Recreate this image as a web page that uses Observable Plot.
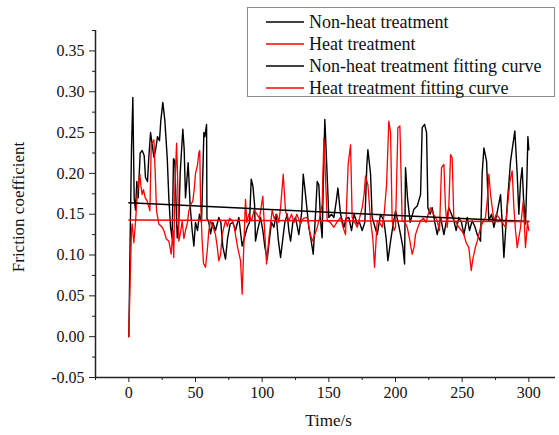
<!DOCTYPE html>
<html>
<head>
<meta charset="utf-8">
<script src="https://cdn.jsdelivr.net/npm/d3@7"></script>
<script src="https://cdn.jsdelivr.net/npm/@observablehq/plot@0.6"></script>
<style>
  body { margin: 0; background: #fff; }
  #wrap { position: relative; width: 559px; height: 435px; }
  #wrap > svg { font-family: "Liberation Serif", "Times New Roman", serif !important; font-size: 16px !important; color: #111 !important; }
  #legend { position: absolute; left: 247px; top: 7px; width: 308px; height: 90px;
    border: 1px solid #8a8a8a; background: #fff; font-family: "Liberation Serif", serif;
    font-size: 18px; color: #111; box-sizing: border-box; padding-top: 3px; }
  #legend .row { height: 22px; line-height: 22px; display: flex; align-items: center; white-space: nowrap; }
  #legend svg { margin-left: 18px; margin-right: 5px; }
</style>
</head>
<body>
<div id="wrap"><div id="legend"></div></div>
<script>
// ---- data ----
const seriesNames = ["Non-heat treatment", "Heat treatment", "Non-heat treatment fitting curve", "Heat treatment fitting curve"];
const seriesColors = ["#000000", "#ff0000", "#000000", "#ff0000"];

const nonHeatT = [0,1,2,3,4,5,6,7,8.5,10,11.5,12.5,14,15,16.3,17.5,18.8,20,21.5,23,24,25.5,27,28.8,30,31.3,32.5,33.5,34.5,35.5,36.3,37.5,38.5,40.5,41.5,42.5,44.5,46,47.5,48.8,50,51.5,53,54.5,56.3,57,58.3,58.6,60,61.3,63,65,67.5,69,70.5,72.5,74,76,78,80,82.5,85,86.5,88.8,90.5,91.8,93,94.3,95,96.5,98.8,100.5,102,103.8,105.5,107,108.8,110.5,112,113.8,115.5,117,118.8,120,121.3,123,125,127.5,129.5,130.8,132.5,135,136.5,138.3,140,141.3,142.5,143.8,145,146,147,148.3,150,152,153.8,155.5,156.8,158.8,161.3,163,165,167,169,171.3,173,175,177,178.5,179.3,181.3,182.5,184.5,186.3,188.8,191.3,193,194.3,196.3,198,200,202,203.8,205.5,206.8,207.5,209,211,213.8,216.3,218.8,220,221.8,223.3,224.3,226,227.5,229.5,231.3,233.8,236.3,238,240,242,243.8,245.5,247.5,249.5,251.3,253.8,255.5,257.5,259.5,261.3,263.8,265,266.3,268.3,270,272,273.8,276,278.8,280,281.3,283.8,286.3,288,289.5,291.3,292.5,293.8,295,296,297.5,298.5,299.3,300];
const nonHeatV = [0,0.12,0.23,0.293,0.17,0.155,0.19,0.17,0.225,0.228,0.222,0.195,0.19,0.22,0.25,0.235,0.22,0.228,0.245,0.24,0.265,0.287,0.265,0.219,0.17,0.134,0.12,0.218,0.215,0.16,0.121,0.14,0.2,0.254,0.23,0.17,0.213,0.16,0.13,0.111,0.14,0.13,0.15,0.14,0.25,0.245,0.26,0.145,0.14,0.126,0.14,0.13,0.146,0.14,0.11,0.095,0.12,0.138,0.14,0.13,0.146,0.111,0.12,0.134,0.14,0.193,0.185,0.162,0.117,0.13,0.146,0.13,0.11,0.095,0.12,0.14,0.134,0.15,0.12,0.097,0.12,0.14,0.15,0.13,0.117,0.14,0.146,0.125,0.15,0.199,0.174,0.134,0.12,0.101,0.15,0.19,0.186,0.142,0.121,0.2,0.266,0.215,0.146,0.15,0.146,0.165,0.182,0.15,0.134,0.145,0.146,0.13,0.15,0.138,0.14,0.13,0.14,0.21,0.229,0.199,0.146,0.135,0.125,0.15,0.142,0.12,0.093,0.117,0.135,0.154,0.14,0.125,0.11,0.089,0.207,0.17,0.14,0.156,0.16,0.174,0.256,0.26,0.25,0.158,0.15,0.158,0.14,0.125,0.146,0.125,0.14,0.158,0.15,0.142,0.13,0.146,0.14,0.125,0.146,0.13,0.142,0.135,0.125,0.117,0.2,0.231,0.215,0.142,0.15,0.134,0.15,0.174,0.14,0.097,0.162,0.215,0.235,0.252,0.199,0.15,0.19,0.207,0.17,0.138,0.19,0.245,0.229];

const heatT = [0,1,2,2.5,3.75,5,6.3,7.3,8.3,9,10,11,12.3,13.8,15.8,16.8,18.8,19.8,20.8,22.5,24.5,26.3,28,30,31.8,33,33.7,34.5,35.8,36.5,37.5,39,40,41.3,42.5,44,45,46.5,48,49,50,51.5,52.5,53.2,53.8,55,56,57.5,58.8,60,61.3,63,65,66.3,67.5,68.8,70,72.5,74,75.5,77.5,79,80,81.5,83.8,85,86,87.5,88.5,90,92,94,96,98,100.5,101.5,103.3,105,107.5,109,111,112.5,113.8,115.8,117.5,120,122,124,126,128.8,131,133.8,135.5,137.5,139.5,141.3,143,145,146.3,147.5,148.8,151,153.8,156,158.8,160.5,162.5,164.5,166.3,167.5,169.5,171.3,173,175,176.5,177.5,179.3,181.3,183,184.3,185.5,186.3,188,190,191.5,193.3,195,196.3,197.5,199,200,201.8,203.3,205,207,208.8,210.5,212.5,214,215,217,218.8,221,223,224.5,226.3,228.5,231.3,233,234.5,236.3,237.5,238.8,240,241.3,242.5,243.8,245.5,247.5,249.5,251.3,253,255,256.8,258,258.8,260,261.3,263.8,265.5,267.5,269,270,271.3,273.8,275.5,277.5,280,282.5,284,285.8,287.5,288.8,290,291.3,293.8,295.8,297.5,299,300];
const heatV = [0,0.07,0.13,0.138,0.115,0.14,0.174,0.19,0.199,0.185,0.174,0.18,0.17,0.166,0.154,0.235,0.241,0.2,0.154,0.138,0.135,0.13,0.12,0.117,0.101,0.13,0.097,0.18,0.237,0.2,0.117,0.13,0.142,0.12,0.13,0.14,0.154,0.162,0.166,0.18,0.2,0.21,0.225,0.228,0.166,0.117,0.09,0.085,0.105,0.13,0.142,0.135,0.125,0.11,0.093,0.1,0.125,0.142,0.135,0.145,0.142,0.135,0.125,0.11,0.093,0.052,0.1,0.168,0.14,0.15,0.142,0.155,0.15,0.145,0.172,0.14,0.089,0.12,0.155,0.145,0.15,0.14,0.158,0.199,0.154,0.142,0.15,0.14,0.15,0.138,0.145,0.146,0.13,0.117,0.125,0.134,0.145,0.162,0.243,0.195,0.142,0.14,0.134,0.14,0.146,0.135,0.125,0.211,0.235,0.146,0.14,0.134,0.145,0.158,0.175,0.197,0.186,0.142,0.12,0.085,0.12,0.142,0.14,0.134,0.15,0.186,0.264,0.25,0.142,0.13,0.134,0.256,0.258,0.142,0.14,0.134,0.12,0.101,0.11,0.125,0.135,0.142,0.145,0.14,0.15,0.158,0.15,0.142,0.13,0.207,0.211,0.158,0.134,0.16,0.223,0.219,0.142,0.14,0.134,0.13,0.125,0.115,0.109,0.081,0.095,0.101,0.11,0.117,0.134,0.14,0.146,0.17,0.199,0.174,0.142,0.15,0.146,0.14,0.134,0.16,0.19,0.203,0.158,0.13,0.109,0.134,0.166,0.109,0.14,0.13];

const fitT = [0, 300];
const nonHeatFitV = [0.164, 0.141];
const heatFitV = [0.143, 0.141];

const xDomain = [-25, 320];
const yDomain = [-0.05, 0.375];
const xMajor = [0, 50, 100, 150, 200, 250, 300];
const xMinor = [-25, 25, 75, 125, 175, 225, 275];
const yMajor = [-0.05, 0, 0.05, 0.10, 0.15, 0.20, 0.25, 0.30, 0.35];
const yMinor = [-0.025, 0.025, 0.075, 0.125, 0.175, 0.225, 0.275, 0.325, 0.375];
const xLabel = "Time/s";
const yLabel = "Friction coefficient";

// ---- build ----
const toRows = (ts, vs) => ts.map((t, i) => ({t, v: vs[i]}));
const nonHeat = toRows(nonHeatT, nonHeatV);
const heat = toRows(heatT, heatV);
const nonHeatFit = toRows(fitT, nonHeatFitV);
const heatFit = toRows(fitT, heatFitV);

const serif = '"Liberation Serif", "Times New Roman", serif';
const chart = Plot.plot({
  width: 559,
  height: 435,
  marginLeft: 95,
  marginRight: 4,
  marginTop: 30,
  marginBottom: 58,
  x: {domain: xDomain},
  y: {domain: yDomain},
  style: {fontFamily: serif, fontSize: "16px", color: "#111", background: "#fff"},
  marks: [
    Plot.line(nonHeat, {x: "t", y: "v", stroke: seriesColors[0], strokeWidth: 1.4}),
    Plot.line(heat, {x: "t", y: "v", stroke: seriesColors[1], strokeWidth: 1.3}),
    Plot.line(nonHeatFit, {x: "t", y: "v", stroke: seriesColors[2], strokeWidth: 1.5}),
    Plot.line(heatFit, {x: "t", y: "v", stroke: seriesColors[3], strokeWidth: 1.5}),
    Plot.ruleX([xDomain[0]], {stroke: "#222", strokeWidth: 1.5}),
    Plot.ruleY([yDomain[0]], {stroke: "#222", strokeWidth: 1.5}),
    Plot.axisY(yMajor, {tickSize: 6, tickPadding: 5, tickFormat: d => d.toFixed(2), label: null, stroke: "#222", fontSize: 16, fontFamily: serif}),
    Plot.axisY(yMinor, {tickSize: 3, tickFormat: () => "", label: null, stroke: "#222"}),
    Plot.axisX(xMajor, {tickSize: 5, tickPadding: 4, tickFormat: d => String(d), label: null, stroke: "#222", fontSize: 16, fontFamily: serif}),
    Plot.axisX(xMinor, {tickSize: 3, tickFormat: () => "", label: null, stroke: "#222"}),
    Plot.text([yLabel], {frameAnchor: "left", textAnchor: "middle", dx: -77, dy: 3, rotate: -90, fontSize: 17, fontFamily: serif, fill: "#111"}),
    Plot.text([xLabel], {frameAnchor: "bottom", textAnchor: "middle", dx: 3, dy: 48, fontSize: 17, fontFamily: serif, fill: "#111"})
  ]
});
document.getElementById("wrap").prepend(chart);

// legend
const legend = d3.select("#legend");
seriesNames.forEach((name, i) => {
  const row = legend.append("div").attr("class", "row");
  const s = row.append("svg").attr("width", 38).attr("height", 10);
  s.append("line").attr("x1", 0).attr("x2", 38).attr("y1", 5).attr("y2", 5)
    .attr("stroke", seriesColors[i]).attr("stroke-width", 1.5);
  row.append("span").text(name);
});
</script>
</body>
</html>
